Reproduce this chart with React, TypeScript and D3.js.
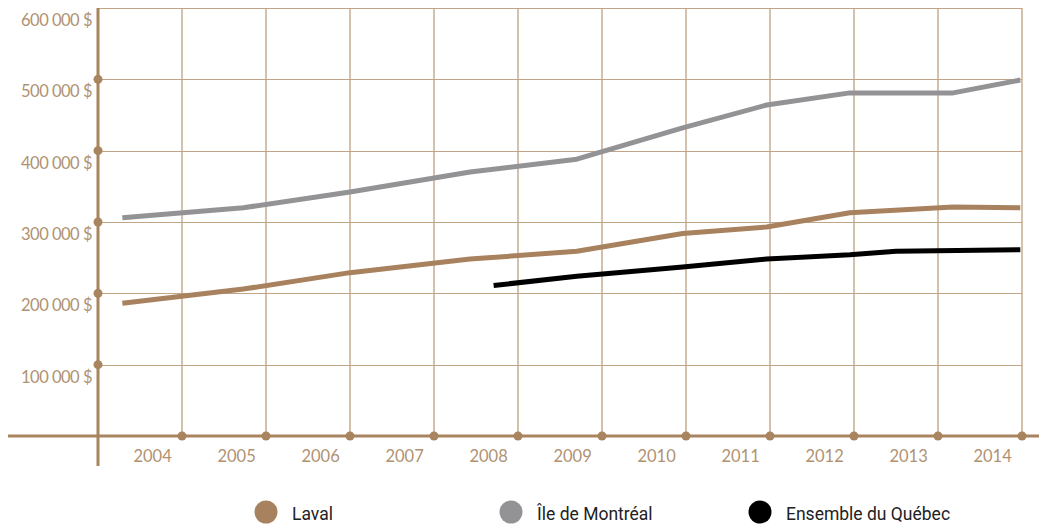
import React from "react";
import * as d3 from "d3";

const years = [2004, 2005, 2006, 2007, 2008, 2009, 2010, 2011, 2012, 2013, 2014];
const yTicks = [0, 100000, 200000, 300000, 400000, 500000, 600000];
const yTickLabels = ["", "100 000 $", "200 000 $", "300 000 $", "400 000 $", "500 000 $", "600 000 $"];

// x positions expressed as fractional years
const lavalX = [2003.29, 2004.73, 2006.0, 2007.43, 2008.7, 2009.96, 2010.96, 2011.95, 2013.18, 2013.98];
const lavalY = [186000, 206000, 229000, 248000, 259000, 284000, 293000, 313000, 321000, 320000];
const montrealX = [2003.29, 2004.73, 2006.0, 2007.43, 2008.7, 2009.96, 2010.96, 2011.95, 2013.18, 2013.98];
const montrealY = [306000, 320000, 342000, 370000, 388000, 432000, 464000, 481000, 481000, 499000];
const quebecX = [2007.71, 2008.7, 2009.96, 2010.96, 2011.95, 2012.5, 2013.98];
const quebecY = [211000, 224000, 237000, 248000, 254000, 259000, 261000];

const seriesNames = ["Laval", "Île de Montréal", "Ensemble du Québec"];
const seriesColors = ["#a8825e", "#939396", "#000000"];

export default function App() {
  const W = 1039, H = 527;
  const x = d3.scaleLinear().domain([2003, 2014]).range([98, 1022]);
  const y = d3.scaleLinear().domain([0, 600000]).range([436, 8]);
  const line = d3.line<[number, number]>().x(d => x(d[0])).y(d => y(d[1]));
  const series = [
    lavalX.map((v, i) => [v, lavalY[i]] as [number, number]),
    montrealX.map((v, i) => [v, montrealY[i]] as [number, number]),
    quebecX.map((v, i) => [v, quebecY[i]] as [number, number]),
  ];
  const axisColor = "#a8845f";
  const labelColor = "#b09272";
  const legendX = [266, 511, 760];
  const tickFont = "Lato, 'Open Sans', sans-serif";
  return (
    <svg width={W} height={H} style={{ position: "absolute", left: 0, top: 0, display: "block" }}>
      {/* vertical grid */}
      {years.map(yr => (
        <line key={"v" + yr} x1={x(yr)} x2={x(yr)} y1={y(600000)} y2={y(0)} stroke="#d4c1ad" strokeWidth={2} />
      ))}
      {/* horizontal grid */}
      {yTicks.slice(1).map(t => (
        <line key={"h" + t} x1={x(2003)} x2={x(2014)} y1={Math.round(y(t)) + 0.5} y2={Math.round(y(t)) + 0.5} stroke="#c2a487" strokeWidth={1.2} />
      ))}
      {/* axes */}
      <line x1={x(2003)} x2={x(2003)} y1={y(600000)} y2={466} stroke={axisColor} strokeWidth={3} />
      <line x1={8} x2={W} y1={y(0)} y2={y(0)} stroke={axisColor} strokeWidth={3} />
      {yTicks.slice(1, 6).map(t => (
        <circle key={"yd" + t} cx={x(2003)} cy={y(t)} r={4.5} fill={axisColor} />
      ))}
      {years.map(yr => (
        <circle key={"xd" + yr} cx={x(yr)} cy={y(0)} r={4.5} fill={axisColor} />
      ))}
      {/* y labels */}
      {yTicks.map((t, i) => (
        <text key={"yl" + t} x={92} y={y(t) + 18} textAnchor="end" fontFamily={tickFont} fontWeight={400} fontSize={16.5} fill={labelColor} letterSpacing={-0.5}>
          {yTickLabels[i]}
        </text>
      ))}
      {/* x labels */}
      {years.map(yr => (
        <text key={"xl" + yr} x={x(yr - 0.35)} y={462} textAnchor="middle" fontFamily={tickFont} fontWeight={400} fontSize={16.5} fill={labelColor}>
          {yr}
        </text>
      ))}
      {/* lines */}
      {series.map((s, i) => (
        <path key={"s" + i} d={line(s) || ""} fill="none" stroke={seriesColors[i]} strokeWidth={5} strokeLinejoin="round" />
      ))}
      {/* legend */}
      {seriesNames.map((n, i) => (
        <g key={"lg" + i}>
          <circle cx={legendX[i]} cy={512} r={11.5} fill={seriesColors[i]} />
          <text x={legendX[i] + 26} y={520} fontFamily="Roboto, 'DejaVu Sans', sans-serif" fontSize={17.5} fill="#222">
            {n}
          </text>
        </g>
      ))}
    </svg>
  );
}
